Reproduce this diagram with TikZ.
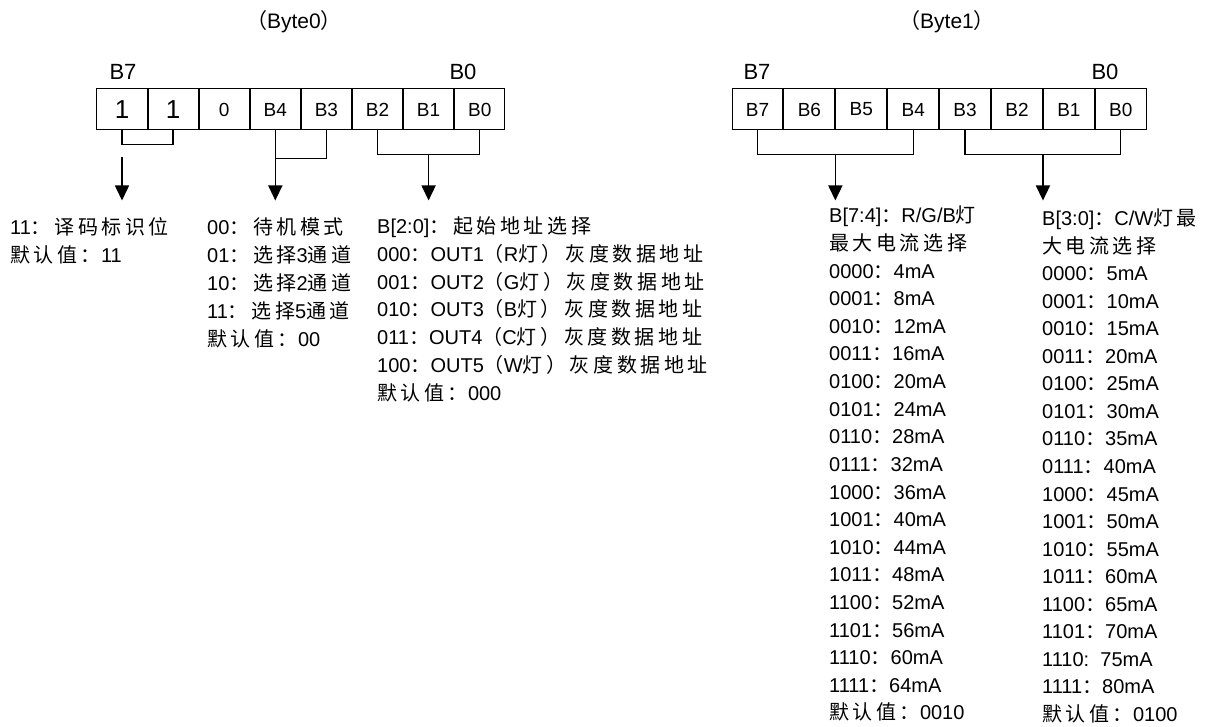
\documentclass[tikz,border=0pt]{standalone}
\usepackage{fontspec}
\setmainfont{Liberation Sans}
\newfontfamily\zhfont{Noto Sans CJK SC}[LetterSpace=18]
\newcommand{\zh}[1]{{\zhfont #1}}
\usetikzlibrary{
    arrows.meta,
    positioning
}

\begin{document}
\begin{tikzpicture}[
x=1pt, y=-1pt,
node distance=0pt,
cell/.style={
draw,
line width=1pt,
minimum width=50.1pt,
minimum height=41pt,
inner sep=0pt,
font=\fontsize{19}{21}\selectfont
},
wcell/.style={cell, minimum width=50.9pt},
bitlabel/.style={inner sep=0pt, font=\fontsize{22}{25}\selectfont},
txt/.style={anchor=base west, inner sep=0pt, font=\fontsize{20}{22}\selectfont},
brace/.style={line width=1.3pt},
arr/.style={line width=1.5pt, -{Triangle[length=15pt,width=14pt]}}
]
\useasboundingbox (0,0) rectangle (1227,727);

% Byte0
\node[txt, anchor=center, font=\fontsize{21}{23}\selectfont] (title0) at (294,22) {\zh{（}Byte0\zh{）}};
\node[bitlabel] (hi0) at (123,72) {B7};
\node[bitlabel] (lo0) at (463,72) {B0};

\node[cell, font=\fontsize{26}{29}\selectfont] (a7) at (122,109.5) {1};
\node[cell, font=\fontsize{26}{29}\selectfont, right=of a7] (a6) {1};
\node[cell, right=of a6] (a5) {0};
\node[cell, right=of a5] (a4) {B4};
\node[cell, right=of a4] (a3) {B3};
\node[cell, right=of a3] (a2) {B2};
\node[cell, right=of a2] (a1) {B1};
\node[cell, right=of a1] (a0) {B0};

\draw[brace] (a7.south) -- ++(0,14) -| (a6.south);
\draw[arr] (a7.south) ++(0,27) -- ++(0,43);
\draw[brace] (a3.south) -- ++(0,28) -| (a4.south);
\draw[arr] (a4.south) -- ++(0,70);
\draw[brace] (a2.south) -- ++(0,24) -| (a0.south);
\draw[arr] (a1.south) ++(0,24) -- ++(0,46);

\node[txt] (flag1) at (10,235) {11\zh{：译码标识位}};
\node[txt] (flag2) at (10,263) {\zh{默认值：}11};

\node[txt] (mode1) at (207,235) {00\zh{：待机模式}};
\node[txt] (mode2) at (207,263) {01\zh{：选择}3\zh{通道}};
\node[txt] (mode3) at (207,291) {10\zh{：选择}2\zh{通道}};
\node[txt] (mode4) at (207,319) {11\zh{：选择}5\zh{通道}};
\node[txt] (mode5) at (207,347) {\zh{默认值：}00};

\node[txt] (addr1) at (377,234) {B[2:0]\zh{：起始地址选择}};
\node[txt] (addr2) at (377,262) {000\zh{：}OUT1\zh{（}R\zh{灯）灰度数据地址}};
\node[txt] (addr3) at (377,290) {001\zh{：}OUT2\zh{（}G\zh{灯）灰度数据地址}};
\node[txt] (addr4) at (377,317) {010\zh{：}OUT3\zh{（}B\zh{灯）灰度数据地址}};
\node[txt] (addr5) at (377,345) {011\zh{：}OUT4\zh{（}C\zh{灯）灰度数据地址}};
\node[txt] (addr6) at (377,373) {100\zh{：}OUT5\zh{（}W\zh{灯）灰度数据地址}};
\node[txt] (addr7) at (377,401) {\zh{默认值：}000};

% Byte1
\node[txt, anchor=center, font=\fontsize{21}{23}\selectfont] (title1) at (947,22) {\zh{（}Byte1\zh{）}};
\node[bitlabel] (hi1) at (757,72) {B7};
\node[bitlabel] (lo1) at (1105,72) {B0};

\node[wcell] (b7) at (757.5,109.5) {B7};
\node[wcell, right=of b7] (b6) {B6};
\node[wcell, right=of b6] (b5) {B5};
\node[wcell, right=of b5] (b4) {B4};
\node[wcell, right=of b4] (b3) {B3};
\node[wcell, right=of b3] (b2) {B2};
\node[wcell, right=of b2] (b1) {B1};
\node[wcell, right=of b1] (b0) {B0};

\draw[brace] (b7.south) -- ++(0,24) -| (b4.south);
\draw[arr] (b6.south east) ++(0,24) -- ++(0,46);
\draw[brace] (b3.south) -- ++(0,24) -| (b0.south);
\draw[arr] (b2.south east) ++(0,24) -- ++(0,46);

\node[txt] (rgb1) at (829,223) {B[7:4]\zh{：}R/G/B\zh{灯}};
\node[txt] (rgb2) at (829,250.6) {\zh{最大电流选择}};
\foreach \code/\ma [count=\i] in {0000/4,0001/8,0010/12,0011/16,0100/20,0101/24,0110/28,0111/32,
  1000/36,1001/40,1010/44,1011/48,1100/52,1101/56,1110/60,1111/64}
  \node[txt] (rgb\code) at (829,{223+27.6*(\i+1)}) {\code\zh{：}\ma mA};
\node[txt] (rgbdef) at (829,719.8) {\zh{默认值：}0010};

\node[txt] (cw1) at (1042,226) {B[3:0]\zh{：}C/W\zh{灯最}};
\node[txt] (cw2) at (1042,253.5) {\zh{大电流选择}};
\foreach \code/\ma [count=\i] in {0000/5,0001/10,0010/15,0011/20,0100/25,0101/30,0110/35,0111/40,
  1000/45,1001/50,1010/55,1011/60,1100/65,1101/70,1110/75,1111/80}
  \node[txt] (cw\code) at (1042,{226+27.5*(\i+1)})
  {\code\ifnum\i=15 :\ \ \else\zh{：}\fi\ma mA};
\node[txt] (cwdef) at (1042,721) {\zh{默认值：}0100};

\end{tikzpicture}
\end{document}
